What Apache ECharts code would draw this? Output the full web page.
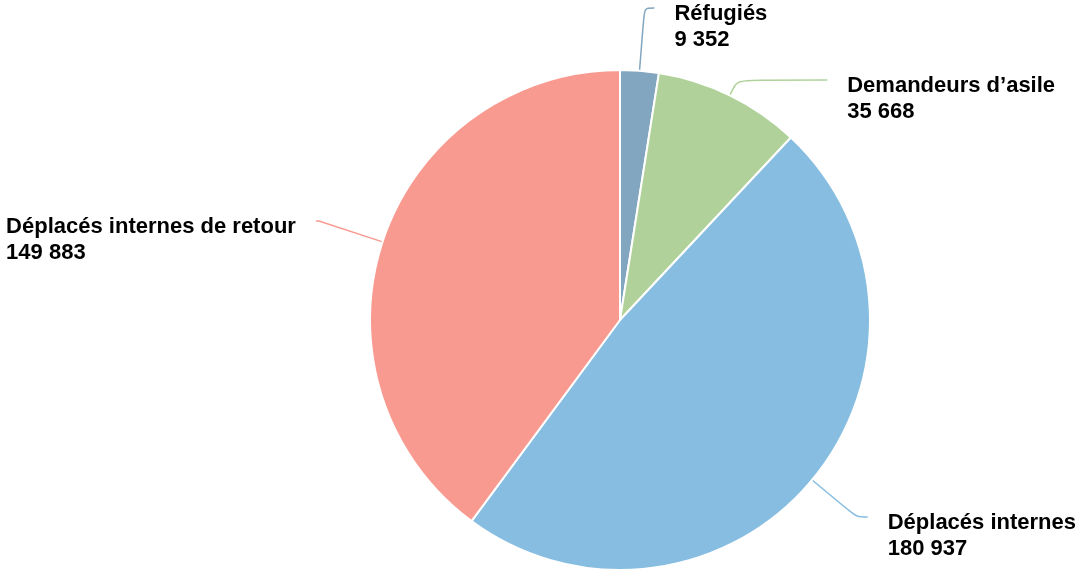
<!DOCTYPE html>
<html>
<head>
<meta charset="utf-8">
<script src="https://cdn.jsdelivr.net/npm/echarts@6/dist/echarts.min.js"></script>
<style>
html,body{margin:0;padding:0;background:#fff;}
#chart{width:1078px;height:570px;}
</style>
</head>
<body>
<div id="chart"></div>
<script>
var categories = ['Réfugiés', 'Demandeurs d\u2019asile', 'Déplacés internes', 'Déplacés internes de retour'];
var values = [9352, 35668, 180937, 149883];
var colors = ['#82a6bf', '#b0d29a', '#86bde0', '#f99a91'];
var lineLengths = [[63, 10], [17, 90], [58, 11], [67, 3]];

function fmt(n) {
  return String(n).replace(/\B(?=(\d{3})+(?!\d))/g, ' ');
}

var txt = {
  fontFamily: 'Liberation Sans, Arial, sans-serif',
  fontWeight: 'bold',
  fontSize: 22,
  lineHeight: 26,
  color: '#000000',
  align: 'left'
};

var chart = echarts.init(document.getElementById('chart'));
chart.setOption({
  backgroundColor: '#ffffff',
  animation: false,
  series: [{
    type: 'pie',
    center: [620, 320],
    radius: 250,
    startAngle: 90,
    clockwise: true,
    avoidLabelOverlap: false,
    itemStyle: { borderColor: '#ffffff', borderWidth: 2 },
    label: {
      show: true,
      formatter: function (p) { return '{s| }\n{a|' + p.name + '}\n{a|' + fmt(p.value) + '}'; },
      rich: {
        s: { fontSize: 10, lineHeight: 38, align: 'left' },
        a: txt
      },
      distanceToLabelLine: 20
    },
    labelLine: { show: true, smooth: 0.3, lineStyle: { width: 1.5 } },
    emphasis: { disabled: true },
    data: categories.map(function (c, i) {
      return {
        name: c,
        value: values[i],
        itemStyle: { color: colors[i] },
        labelLine: { length: lineLengths[i][0], length2: lineLengths[i][1], lineStyle: { color: colors[i] } }
      };
    })
  }]
});
</script>
</body>
</html>
